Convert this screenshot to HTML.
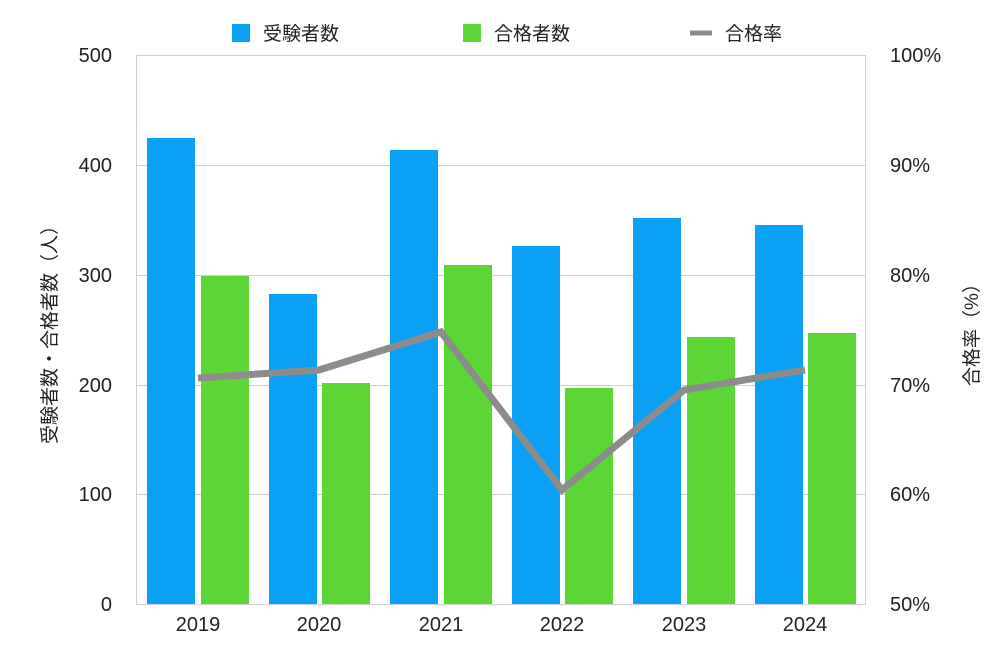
<!DOCTYPE html>
<html><head><meta charset="utf-8"><style>
body{margin:0;background:#fff}
text{font-family:"Liberation Sans","Noto Sans CJK JP",sans-serif;fill:#222}
</style></head><body>
<svg width="1000" height="650" xmlns="http://www.w3.org/2000/svg">
<g stroke="#cfcfcf" stroke-width="1">
<line x1="136" y1="55.5" x2="866" y2="55.5"/>
<line x1="136" y1="165.5" x2="866" y2="165.5"/>
<line x1="136" y1="275.5" x2="866" y2="275.5"/>
<line x1="136" y1="385.5" x2="866" y2="385.5"/>
<line x1="136" y1="494.5" x2="866" y2="494.5"/>
<line x1="136" y1="604.5" x2="866" y2="604.5"/>
<line x1="136.5" y1="55" x2="136.5" y2="604"/>
<line x1="865.5" y1="55" x2="865.5" y2="604"/>
</g>
<g fill="#0aa0f5">
<rect x="147" y="138" width="48" height="466"/>
<rect x="269" y="294" width="48" height="310"/>
<rect x="390" y="150" width="48" height="454"/>
<rect x="512" y="246" width="48" height="358"/>
<rect x="633" y="218" width="48" height="386"/>
<rect x="755" y="225" width="48" height="379"/>
</g>
<g fill="#5cd636">
<rect x="201" y="276" width="48" height="328"/>
<rect x="322" y="383" width="48" height="221"/>
<rect x="444" y="265" width="48" height="339"/>
<rect x="565" y="388" width="48" height="216"/>
<rect x="687" y="337" width="48" height="267"/>
<rect x="808" y="333" width="48" height="271"/>
</g>
<polyline points="198,378 319,370 441,332 562,490 684,390 805,370" fill="none" stroke="#8c8c8c" stroke-width="7" stroke-linejoin="miter"/>
<g font-size="20" text-anchor="end">
<text x="112" y="62">500</text><text x="112" y="172">400</text><text x="112" y="282">300</text>
<text x="112" y="392">200</text><text x="112" y="501">100</text><text x="112" y="611">0</text>
</g>
<g font-size="20" text-anchor="start">
<text x="890" y="62">100%</text><text x="890" y="172">90%</text><text x="890" y="282">80%</text>
<text x="890" y="392">70%</text><text x="890" y="501">60%</text><text x="890" y="611">50%</text>
</g>
<g font-size="20" text-anchor="middle">
<text x="198" y="631">2019</text><text x="319" y="631">2020</text><text x="441" y="631">2021</text>
<text x="562" y="631">2022</text><text x="684" y="631">2023</text><text x="805" y="631">2024</text>
</g>
<text font-size="19" text-anchor="middle" transform="translate(56,330) rotate(-90)">受験者数・合格者数（人）</text>
<text font-size="19" text-anchor="middle" transform="translate(978,330) rotate(-90)">合格率（%）</text>
<rect x="232" y="24" width="18" height="18" fill="#0aa0f5"/>
<text x="263" y="40" font-size="19">受験者数</text>
<rect x="463" y="24" width="18" height="18" fill="#5cd636"/>
<text x="494" y="40" font-size="19">合格者数</text>
<line x1="690" y1="33" x2="712" y2="33" stroke="#8c8c8c" stroke-width="5"/>
<text x="725" y="40" font-size="19">合格率</text>
</svg>
</body></html>
